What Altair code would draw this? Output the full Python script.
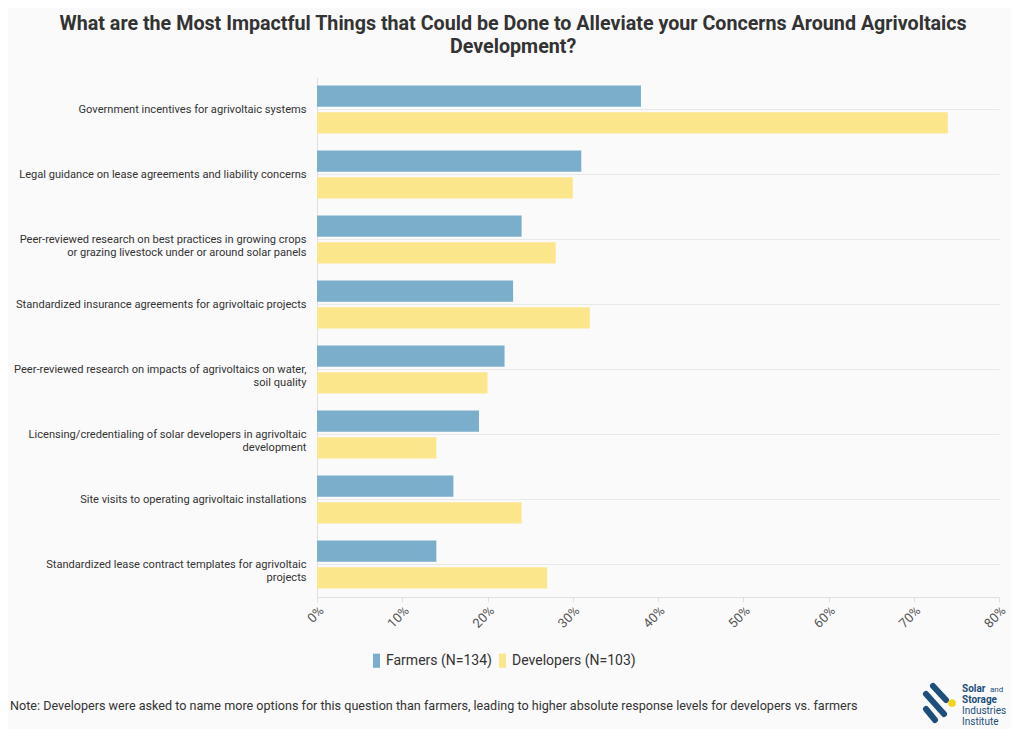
import altair as alt
import pandas as pd

items = [
    "Government incentives for agrivoltaic systems",
    "Legal guidance on lease agreements and liability concerns",
    "Peer-reviewed research on best practices in growing crops|or grazing livestock under or around solar panels",
    "Standardized insurance agreements for agrivoltaic projects",
    "Peer-reviewed research on impacts of agrivoltaics on water,|soil quality",
    "Licensing/credentialing of solar developers in agrivoltaic|development",
    "Site visits to operating agrivoltaic installations",
    "Standardized lease contract templates for agrivoltaic|projects",
]
series = ["Farmers (N=134)", "Developers (N=103)"]
farmers = [38, 31, 24, 23, 22, 19, 16, 14]
developers = [74, 30, 28, 32, 20, 14, 24, 27]
colors = ["#7aaecb", "#fce68c"]
x_ticks = [0, 10, 20, 30, 40, 50, 60, 70, 80]

title_lines = [
    "What are the Most Impactful Things that Could be Done to Alleviate your Concerns Around Agrivoltaics",
    "Development?",
]
note = ("Note: Developers were asked to name more options for this question than farmers, "
        "leading to higher absolute response levels for developers vs. farmers")

rows = []
for i, it in enumerate(items):
    rows.append({"item": it, "series": series[0], "value": farmers[i]})
    rows.append({"item": it, "series": series[1], "value": developers[i]})
df = pd.DataFrame(rows)

FONT = "Roboto"

bars = alt.Chart(df).mark_bar().encode(
    x=alt.X("value:Q", scale=alt.Scale(domain=[0, 80], nice=False),
            axis=alt.Axis(values=x_ticks, labelExpr="datum.value + '%'", labelAngle=315,
                          title=None, grid=False, domainColor="#e0e0e0", tickColor="#e0e0e0",
                          tickSize=5, labelFontSize=13, labelColor="#555555", labelFont=FONT,
                          labelPadding=2)),
    y=alt.Y("item:N", sort=items,
            scale=alt.Scale(paddingInner=0.26, paddingOuter=0.13),
            axis=alt.Axis(title=None, labelExpr="split(datum.label, '|')", ticks=False,
                          domainColor="#e0e0e0", grid=True, gridColor="#e8e8e8",
                          labelFontSize=11.1, labelColor="#333333", labelFont=FONT,
                          labelPadding=11, labelLimit=400, labelLineHeight=13)),
    yOffset=alt.YOffset("series:N", sort=series, scale=alt.Scale(paddingInner=0.2)),
    color=alt.Color("series:N", sort=series,
                    scale=alt.Scale(domain=series, range=colors),
                    legend=alt.Legend(orient="none", legendX=52, legendY=576, direction="horizontal",
                                      title=None, symbolType="M-0.5,-1H0.5V1H-0.5Z",
                                      symbolSize=200, symbolStrokeWidth=0, labelFontSize=14,
                                      labelFont=FONT, labelColor="#333333", labelOffset=2,
                                      columnPadding=3)),
)

note_layer = alt.Chart(pd.DataFrame({"t": [note]})).mark_text(
    align="left", baseline="middle", fontSize=12.6, font=FONT, color="#333333"
).encode(text="t:N", x=alt.value(-307), y=alt.value(629))

logo_color = "#1d4f7a"
stripes = []
for (x1, y1, x2, y2) in [(616, 609, 629, 623), (609, 617, 627, 637), (609, 632, 618, 643)]:
    stripes.append(
        alt.Chart(pd.DataFrame({"a": [0]})).mark_rule(
            color=logo_color, strokeWidth=6, strokeCap="round"
        ).encode(x=alt.value(x1), x2=alt.value(x2), y=alt.value(y1), y2=alt.value(y2))
    )
dot = alt.Chart(pd.DataFrame({"a": [0]})).mark_point(
    filled=True, color="#f5d31f", size=60, opacity=1
).encode(x=alt.value(635), y=alt.value(626))

def logo_text(txt, x, y, size, weight):
    return alt.Chart(pd.DataFrame({"t": [txt]})).mark_text(
        align="left", baseline="middle", fontSize=size, font=FONT, fontWeight=weight, color=logo_color
    ).encode(text="t:N", x=alt.value(x), y=alt.value(y))

logo = [
    logo_text("Solar", 645, 612, 10, "bold"),
    logo_text("and", 673, 613, 8, "normal"),
    logo_text("Storage", 645, 623, 10, "bold"),
    logo_text("Industries", 645, 634, 10, "normal"),
    logo_text("Institute", 645, 645, 10, "normal"),
]

chart = alt.layer(bars, note_layer, *stripes, dot, *logo).properties(
    width=682, height=520,
    autosize=alt.AutoSizeParams(type="none"),
    padding={"left": 309, "top": 69, "right": 12, "bottom": 132},
    title=alt.TitleParams(title_lines, anchor="middle", frame="bounds", fontSize=19.7,
                          font=FONT, fontWeight="bold", color="#333333", offset=20,
                          lineHeight=23, dx=4),
    background="#fafafa",
).configure_view(stroke=None)

chart.save("out.html", embed_options={"renderer": "svg", "actions": False})
